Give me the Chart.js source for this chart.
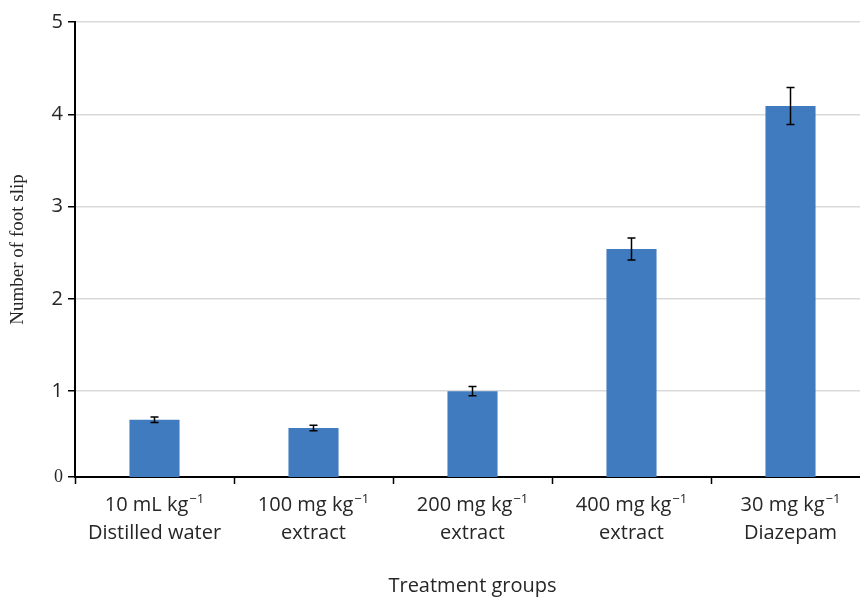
<!DOCTYPE html>
<html>
<head>
<meta charset="utf-8">
<script src="https://cdn.jsdelivr.net/npm/chart.js@4.4.0/dist/chart.umd.min.js"></script>
<style>
  html, body { margin: 0; padding: 0; background: #fff; overflow: hidden; width: 860px; height: 599px; }
  canvas { display: block; }
</style>
</head>
<body>
<canvas id="c" width="880" height="599"></canvas>
<script>
// Treatment groups: dose line (with kg^-1 exponent) and substance line
const doses = ["10 mL kg", "100 mg kg", "200 mg kg", "400 mg kg", "30 mg kg"];
const doseExponent = "\u22121";
const groups = ["Distilled water", "extract", "extract", "extract", "Diazepam"];

// Mean number of foot slips and error (±)
const footSlips = [0.69, 0.60, 1.00, 2.54, 4.09];
const footSlipErr = [0.03, 0.03, 0.05, 0.12, 0.20];

// Value axis: floor of the axis and its tick labels
const yAxisFloor = 0.07;
const yTickValues = [yAxisFloor, 1, 2, 3, 4, 5];
const yTickLabels = ["0", "1", "2", "3", "4", "5"];

const BLUE = '#3f7bbe';
const TEXT = '#262626';
const SANS = '"Open Sans", "Noto Sans", sans-serif';
const SERIF = '"Liberation Serif", "DejaVu Serif", serif';

const errorBars = {
  id: 'errorBars',
  afterDatasetsDraw(chart) {
    const { ctx, scales: { y } } = chart;
    const meta = chart.getDatasetMeta(0);
    ctx.save();
    ctx.strokeStyle = '#000';
    ctx.lineWidth = 1.5;
    meta.data.forEach((bar, i) => {
      const v = footSlips[i], e = footSlipErr[i];
      const yt = y.getPixelForValue(v + e);
      const yb = y.getPixelForValue(v - e);
      const x = bar.x, hw = 4;
      ctx.beginPath();
      ctx.moveTo(x, yt); ctx.lineTo(x, yb);
      ctx.moveTo(x - hw, yt); ctx.lineTo(x + hw, yt);
      ctx.moveTo(x - hw, yb); ctx.lineTo(x + hw, yb);
      ctx.stroke();
    });
    ctx.restore();
  }
};

// Two-line category labels with a raised exponent on the unit
const categoryLabels = {
  id: 'categoryLabels',
  afterDraw(chart) {
    const { ctx, scales: { x } } = chart;
    ctx.save();
    ctx.fillStyle = TEXT;
    ctx.textBaseline = 'alphabetic';
    doses.forEach((d, i) => {
      const cx = x.getPixelForValue(i);
      ctx.font = `20px ${SANS}`;
      const w1 = ctx.measureText(d).width;
      ctx.font = `13px ${SANS}`;
      const ws = ctx.measureText(doseExponent).width;
      const start = cx - (w1 + 1 + ws) / 2;
      ctx.textAlign = 'left';
      ctx.font = `20px ${SANS}`;
      ctx.fillText(d, start, x.top + 34);
      ctx.font = `13px ${SANS}`;
      ctx.fillText(doseExponent, start + w1 + 1, x.top + 26);
      ctx.font = `20px ${SANS}`;
      ctx.textAlign = 'center';
      ctx.fillText(groups[i], cx, x.top + 62);
    });
    ctx.restore();
  }
};

new Chart(document.getElementById('c'), {
  type: 'bar',
  data: {
    labels: doses.map(d => d + ' kg\u207B\u00B9'),
    datasets: [{
      data: footSlips,
      backgroundColor: BLUE,
      borderWidth: 0,
      categoryPercentage: 1,
      barPercentage: 0.315
    }]
  },
  options: {
    responsive: false,
    animation: false,
    layout: { padding: { top: 22, right: 10, bottom: 0, left: 0 } },
    plugins: { legend: { display: false }, tooltip: { enabled: false } },
    scales: {
      x: {
        offset: true,
        grid: { display: true, drawOnChartArea: false, drawTicks: true, tickLength: 7, tickColor: '#000', tickWidth: 1.5, offset: true },
        border: { display: true, color: '#000', width: 2 },
        ticks: { display: false },
        title: {
          display: true, text: 'Treatment groups', color: TEXT,
          font: { family: SANS, size: 20 }, padding: { top: 0, bottom: 1 }
        },
        afterFit(scale) { scale.height = 122; }
      },
      y: {
        min: yAxisFloor,
        max: 5,
        afterBuildTicks(scale) { scale.ticks = yTickValues.map(v => ({ value: v })); },
        grid: { color: '#d9d9d9', lineWidth: 1.5, tickLength: 7, tickColor: '#000', tickWidth: 1.5 },
        border: { display: true, color: '#000', width: 2 },
        ticks: {
          padding: 5,
          color: TEXT,
          font: ctx => ctx.index === 0 ? { family: SERIF, size: 18 } : { family: SANS, size: 20 },
          callback: (v, i) => yTickLabels[i]
        },
        title: {
          display: true, text: 'Number of foot slip', color: TEXT,
          font: { family: SERIF, size: 19 }, padding: { top: 7, bottom: 0 }
        },
        afterFit(scale) { scale.width = 75; }
      }
    }
  },
  plugins: [errorBars, categoryLabels]
});
</script>
</body>
</html>
